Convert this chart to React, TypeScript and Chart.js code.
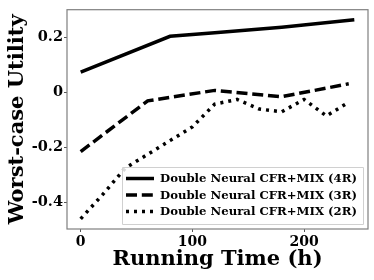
import React, { useEffect, useRef } from "react";
import { Chart, registerables } from "chart.js";

Chart.register(...registerables);

const seriesLabels = [
  "Double Neural CFR+MIX (4R)",
  "Double Neural CFR+MIX (3R)",
  "Double Neural CFR+MIX (2R)",
];
const x4R = [0, 80, 120, 180, 245];
const y4R = [0.075, 0.205, 0.218, 0.238, 0.265];
const x3R = [0, 60, 120, 180, 240];
const y3R = [-0.215, -0.03, 0.008, -0.015, 0.032];
const x2R = [0, 20, 40, 60, 80, 100, 120, 140, 160, 180, 200, 220, 240];
const y2R = [-0.46, -0.37, -0.275, -0.225, -0.175, -0.125, -0.042, -0.025, -0.06, -0.07, -0.025, -0.085, -0.035];
const xTicks = [0, 100, 200];
const yTicks = [-0.4, -0.2, 0, 0.2];

const FONT = "'DejaVu Serif', serif";

const pts = (xs: number[], ys: number[]) => xs.map((x, i) => ({ x, y: ys[i] }));

const framePlugin = {
  id: "frameLegend",
  afterDraw(chart: any) {
    const { ctx, chartArea: a } = chart;
    ctx.save();
    ctx.strokeStyle = "#7f7f7f";
    ctx.lineWidth = 1.2;
    ctx.strokeRect(a.left, a.top, a.right - a.left, a.bottom - a.top);
    // legend
    const bx = 122, by = 167, bw = 241, bh = 57;
    ctx.fillStyle = "rgba(255,255,255,0.85)";
    ctx.strokeStyle = "#d0d0d0";
    ctx.lineWidth = 1;
    ctx.beginPath();
    ctx.rect(bx + 0.5, by + 0.5, bw, bh);
    ctx.fill();
    ctx.stroke();
    const dashes = [[], [11, 4.8], [3, 5]];
    ctx.font = `bold 11.7px ${FONT}`;
    ctx.textBaseline = "middle";
    seriesLabels.forEach((lab, i) => {
      const y = by + 11.5 + i * 16.5;
      ctx.strokeStyle = "#000";
      ctx.lineWidth = 3.5;
      ctx.lineCap = "butt";
      ctx.setLineDash(dashes[i]);
      ctx.beginPath();
      ctx.moveTo(bx + 4, y);
      ctx.lineTo(bx + 32, y);
      ctx.stroke();
      ctx.setLineDash([]);
      ctx.fillStyle = "#000";
      ctx.fillText(lab, bx + 38, y + 0.5);
    });
    ctx.restore();
  },
};

export default function App() {
  const ref = useRef<HTMLCanvasElement>(null);
  useEffect(() => {
    document.body.style.margin = "0";
    const chart = new Chart(ref.current!, {
      type: "line",
      data: {
        datasets: [
          { label: seriesLabels[0], data: pts(x4R, y4R), borderColor: "#000", borderWidth: 3.5, pointRadius: 0, tension: 0 },
          { label: seriesLabels[1], data: pts(x3R, y3R), borderColor: "#000", borderWidth: 3.5, borderDash: [11, 4.8], pointRadius: 0, tension: 0 },
          { label: seriesLabels[2], data: pts(x2R, y2R), borderColor: "#000", borderWidth: 3.5, borderDash: [3, 5], pointRadius: 0, tension: 0 },
        ],
      },
      options: {
        animation: false,
        responsive: false,
        layout: { padding: { left: 0, right: 6, top: 5, bottom: 0 } },
        plugins: { legend: { display: false }, tooltip: { enabled: false } },
        scales: {
          x: {
            type: "linear",
            min: -12.25,
            max: 257.25,
            afterBuildTicks: (s: any) => { s.ticks = xTicks.map((v) => ({ value: v })); },
            afterFit: (s: any) => { s.height = 51; },
            grid: { drawOnChartArea: false, drawTicks: true, tickLength: 3, color: "#555" },
            border: { display: false },
            ticks: { color: "#000", font: { family: FONT, weight: "bold", size: 14 }, padding: 2, maxRotation: 0 },
            title: { display: true, text: "Running Time (h)", color: "#000", font: { family: FONT, weight: "bold", size: 21 }, padding: { top: 0, bottom: 8 } },
          },
          y: {
            type: "linear",
            min: -0.497,
            max: 0.302,
            afterBuildTicks: (s: any) => { s.ticks = yTicks.map((v) => ({ value: v })); },
            afterFit: (s: any) => { s.width = 67; },
            grid: { drawOnChartArea: false, drawTicks: true, tickLength: 3, color: "#555" },
            border: { display: false },
            ticks: {
              color: "#000",
              font: { family: FONT, weight: "bold", size: 14.5 },
              padding: 1,
              callback: (v: any) => (Math.abs(v) < 1e-9 ? "0" : String(Number(v).toFixed(1))),
            },
            title: { display: true, text: "Worst-case Utility", color: "#000", font: { family: FONT, weight: "bold", size: 21 }, padding: { top: 5, bottom: 0 } },
          },
        },
      },
      plugins: [framePlugin],
    });
    return () => chart.destroy();
  }, []);
  return (
    <div style={{ position: "fixed", left: 0, top: 0, width: 374, height: 280 }}>
      <canvas ref={ref} width={374} height={280} style={{ width: 374, height: 280 }} />
    </div>
  );
}
